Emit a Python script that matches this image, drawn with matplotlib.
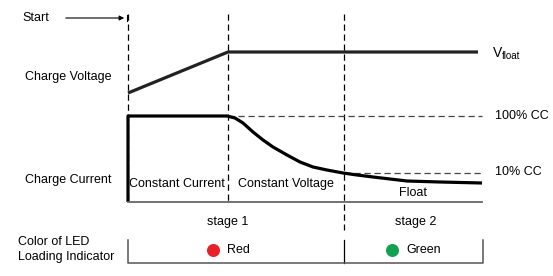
import matplotlib.pyplot as plt
import numpy as np

plt.rcParams['font.family'] = ['Liberation Sans', 'DejaVu Sans']

# layout in picture units (x to the right, y downwards)
t_start, t_cv, t_float, t_end = 128, 228, 344, 482

# charge voltage trace
volt_x = [128, 228, 478]
volt_y = [93, 52, 52]

# charge current trace
curr_x = [128, 128, 227, 235, 243, 253, 263, 273, 287, 300, 313, 327, 343, 357, 373, 407, 440, 482]
curr_y = [202, 116, 116, 118, 123, 132, 140, 147, 155, 162, 167, 170, 173, 175, 177, 181, 182, 183]

cc100_y = 116
cc10_y = 173

phase_labels = ["Constant Current", "Constant Voltage", "Float"]
phase_x = [177, 286, 413]
phase_y = [184, 184, 193]

stage_labels = ["stage 1", "stage 2"]
stage_x = [228, 416]

led_names = ["Red", "Green"]
led_colors = ["#e8202a", "#12a150"]
led_x = [213, 392]

fig = plt.figure(figsize=(5.53, 2.76), dpi=100)
ax = fig.add_axes([0, 0, 1, 1])
ax.set_xlim(0, 553)
ax.set_ylim(276, 0)
ax.axis('off')

fs = 9
dash = dict(color='k', lw=0.9, ls=(0, (5, 3)))

# vertical markers
ax.plot([t_start, t_start], [14, 202], **dash)
ax.plot([t_cv, t_cv], [14, 202], **dash)
ax.plot([t_float, t_float], [14, 230], **dash)
ax.plot([t_float, t_float], [240, 263], color='k', lw=0.9)

# reference levels
ax.plot([t_cv, t_end], [cc100_y, cc100_y], color='#444444', lw=0.9, ls=(0, (5, 3)))
ax.plot([t_float, t_end], [cc10_y, cc10_y], color='#444444', lw=0.9, ls=(0, (5, 3)))

# traces
ax.plot(volt_x, volt_y, color='#222222', lw=2.3, solid_capstyle='butt')
ax.plot(curr_x, curr_y, color='k', lw=2.3, solid_joinstyle='round', solid_capstyle='butt')

# base lines
ax.plot([t_start, t_end], [202, 202], color='#666666', lw=1.3)
ax.plot([t_start, t_start, t_end + 1, t_end + 1], [240, 263, 263, 240], color='#555555', lw=1.1)

# start arrow
ax.annotate('', xy=(127, 18), xytext=(63, 18),
            arrowprops=dict(arrowstyle='-|>', color='k', lw=0.8, mutation_scale=7))
ax.plot([127, 127], [15, 21], color='k', lw=0.8)
ax.text(22, 18, "Start", fontsize=fs, va='center', ha='left')

# left labels
ax.text(25, 77, "Charge Voltage", fontsize=fs, va='center', ha='left')
ax.text(25, 180, "Charge Current", fontsize=fs, va='center', ha='left')
ax.text(18, 242, "Color of LED", fontsize=fs, va='center', ha='left')
ax.text(18, 257, "Loading Indicator", fontsize=fs, va='center', ha='left')

# right labels
ax.text(493, 53, "V", fontsize=fs + 1, va='center', ha='left')
ax.text(502, 56, "float", fontsize=fs - 2, va='center', ha='left')
ax.text(495, 116, "100% CC", fontsize=fs, va='center', ha='left')
ax.text(495, 172, "10% CC", fontsize=fs, va='center', ha='left')

for lab, x, y in zip(phase_labels, phase_x, phase_y):
    ax.text(x, y, lab, fontsize=fs, va='center', ha='center')

for lab, x in zip(stage_labels, stage_x):
    ax.text(x, 222, lab, fontsize=fs, va='center', ha='center')

for name, c, x in zip(led_names, led_colors, led_x):
    ax.scatter([x], [250], s=70, color=c, zorder=3)
    ax.text(x + 14, 250, name, fontsize=fs, va='center', ha='left')

fig.savefig('out.png', dpi=100)
